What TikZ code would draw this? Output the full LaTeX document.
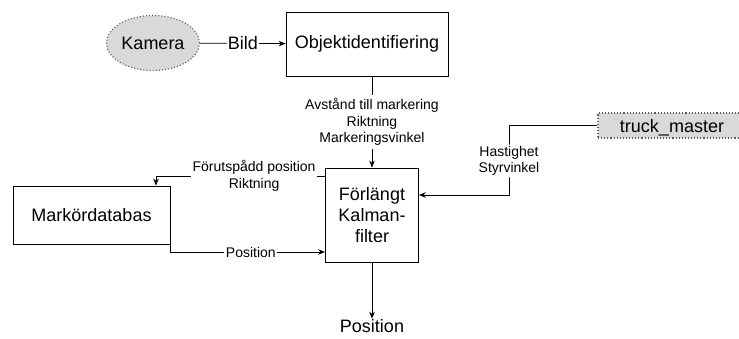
\documentclass[tikz,border=0pt]{standalone}
\usepackage{fontspec}
\setmainfont{Liberation Sans}
\usetikzlibrary{arrows.meta,shapes.geometric}

\begin{document}
\begin{tikzpicture}[x=1pt,y=-1pt]
  \tikzset{
    module/.style={
      draw,
      line width=0.8pt,
      align=center,
      inner sep=0pt,
      font=\fontsize{18}{21}\selectfont,
    },
    source/.style={
      draw=black!65,
      dotted,
      line width=1.1pt,
      fill=black!15,
      inner sep=0pt,
      font=\fontsize{18}{21}\selectfont,
    },
    flow/.style={
      line width=0.8pt,
      -{Stealth[length=7pt,width=5.5pt]},
    },
    signal/.style={
      fill=white,
      align=center,
      inner sep=1.5pt,
      font=\fontsize{14}{16.5}\selectfont,
    },
  }
  \useasboundingbox (0,0) rectangle (739,338);

  % moduler
  \node[source, ellipse, minimum width=93pt, minimum height=55pt] (kamera) at (153,43) {Kamera};
  \node[module, minimum width=162pt, minimum height=64pt] (objekt) at (367,44) {Objektidentifiering};
  \node[module, minimum width=93pt, minimum height=94pt] (kalman) at (372,215) {Förlängt\\Kalman-\\filter};
  \node[module, minimum width=157pt, minimum height=58pt] (markor) at (91.5,215) {Markördatabas};
  \node[source, minimum width=148pt, minimum height=25pt, text depth=0pt] (truck) at (672,125.5) {truck\_master};
  \node[inner sep=1pt, font=\fontsize{18}{21}\selectfont] (utpos) at (372,326.5) {Position};

  % signaler
  \draw[flow] (kamera) -- node[signal, inner sep=1pt, font=\fontsize{18}{21}\selectfont] {Bild} (objekt);
  \draw[flow] (objekt.south -| kalman.north) -- node[signal, inner sep=3pt] {Avstånd till markering\\Riktning\\Markeringsvinkel} (kalman.north);
  \draw[flow] (kalman.west |- 0,176) -- node[signal, pos=0.42] {Förutspådd position\\Riktning} (156,176) -- (156,0 |- markor.north);
  \draw[flow] (markor.south east) |- node[signal, pos=0.76] {Position} (kalman.west |- 0,252);
  \draw[flow] (truck.west) -| (509,161) node[signal] {Hastighet\\Styrvinkel} |- (kalman.east |- 0,195);
  \draw[flow] (kalman.south) -- (utpos.north);
\end{tikzpicture}
\end{document}
